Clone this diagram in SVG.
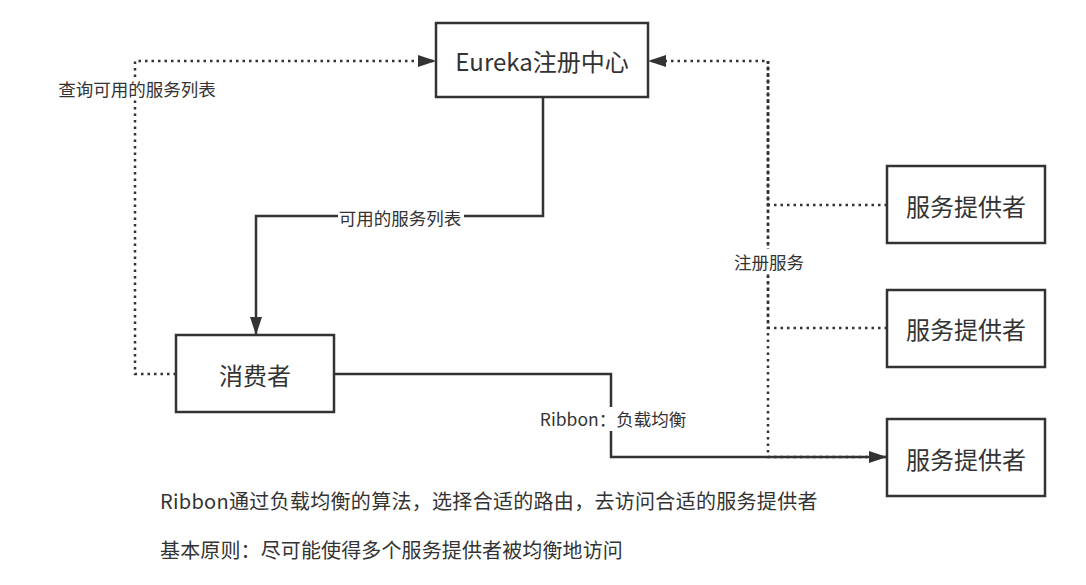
<svg xmlns="http://www.w3.org/2000/svg" width="1086" height="585" viewBox="0 0 1086 585">
<style>
text{font-family:"Noto Sans CJK SC","Microsoft YaHei",sans-serif;fill:#333;}
.box{fill:#fff;stroke:#333;stroke-width:2.5;}
.lbl{font-size:24px;text-anchor:middle;dominant-baseline:central;}
.el{font-size:17.5px;text-anchor:middle;dominant-baseline:central;}
.bg{fill:#fff;}
.solid{fill:none;stroke:#333;stroke-width:2.5;}
.dot{fill:none;stroke:#333;stroke-width:2.5;stroke-dasharray:2.5 4;}
.note{font-size:20px;}
</style>
<defs>
<marker id="arr" markerUnits="userSpaceOnUse" markerWidth="18" markerHeight="14" refX="18" refY="7" orient="auto">
<path d="M0,1 L18,7 L0,13 Z" fill="#333"/>
</marker>
</defs>
<g id="connectors">
<path class="dot" d="M176,374 H135 V61 H436" marker-end="url(#arr)"/>
<path class="solid" d="M543,97 V216 H256 V335" marker-end="url(#arr)"/>
<path class="dot" d="M887,205 H768 V61 H648" marker-end="url(#arr)"/>
<path class="dot" d="M887,328 H768 V61"/>
<path class="dot" d="M887,457 H768 V61"/>
<path class="solid" d="M334,374 H611 V457 H887" marker-end="url(#arr)"/>
<rect class="bg" x="56" y="77" width="162" height="22"/>
<text class="el" x="137" y="88">查询可用的服务列表</text>
<rect class="bg" x="338" y="206" width="126" height="22"/>
<text class="el" x="400" y="217">可用的服务列表</text>
<rect class="bg" x="732" y="249" width="74" height="24"/>
<text class="el" x="769" y="261">注册服务</text>
<rect class="bg" x="538" y="407" width="150" height="24"/>
<text class="el" x="613" y="418">Ribbon：负载均衡</text>
</g>
<g id="eureka">
<rect class="box" x="436" y="23" width="212" height="74"/>
<text class="lbl" x="542" y="60">Eureka注册中心</text>
</g>
<g id="consumer">
<rect class="box" x="176" y="335" width="158" height="77"/>
<text class="lbl" x="255" y="374">消费者</text>
</g>
<g id="provider1">
<rect class="box" x="887" y="166" width="158" height="77"/>
<text class="lbl" x="966" y="205">服务提供者</text>
</g>
<g id="provider2">
<rect class="box" x="887" y="290" width="158" height="77"/>
<text class="lbl" x="966" y="328">服务提供者</text>
</g>
<g id="provider3">
<rect class="box" x="887" y="419" width="158" height="77"/>
<text class="lbl" x="966" y="458">服务提供者</text>
</g>
<g id="notes">
<text class="note" x="160" y="509" letter-spacing="0.3">Ribbon通过负载均衡的算法，选择合适的路由，去访问合适的服务提供者</text>
<text class="note" x="160" y="558" letter-spacing="0.13">基本原则：尽可能使得多个服务提供者被均衡地访问</text>
</g>
</svg>
